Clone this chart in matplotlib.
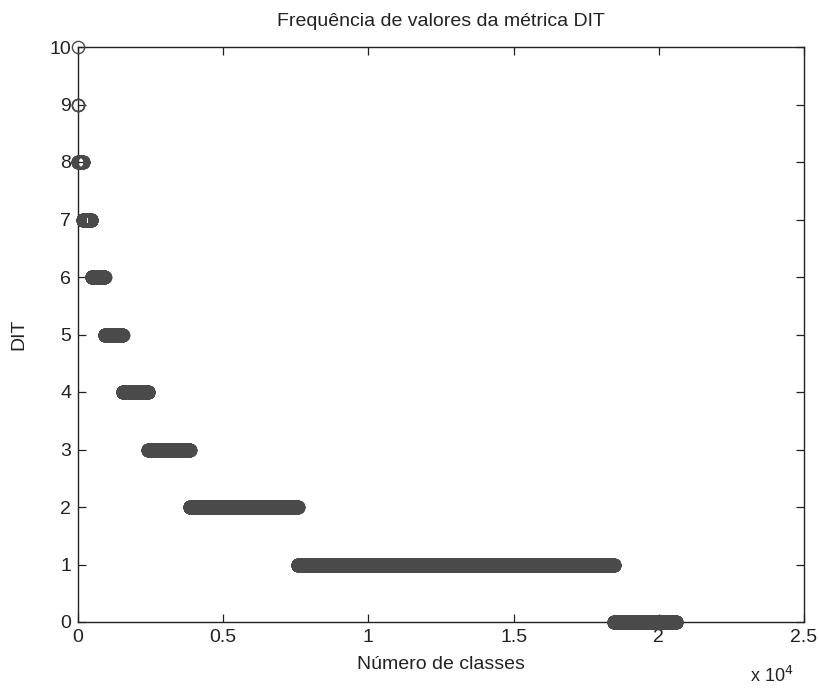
import numpy as np
import matplotlib
matplotlib.use("Agg")
import matplotlib.pyplot as plt

# Data: DIT value and number of classes having that value (sorted descending by DIT)
dit_values = [10, 9, 8, 7, 6, 5, 4, 3, 2, 1, 0]
class_counts = [1, 3, 160, 300, 450, 620, 880, 1430, 3720, 10890, 2140]

xtick_values = [0, 5000, 10000, 15000, 20000, 25000]
xtick_labels = ["0", "0.5", "1", "1.5", "2", "2.5"]
ytick_values = list(range(0, 11))

title = "Frequência de valores da métrica DIT"
xlabel = "Número de classes"
ylabel = "DIT"

plt.rcParams['font.family'] = ["Liberation Sans", 'DejaVu Sans']

y = np.repeat(dit_values, class_counts)
x = np.arange(1, len(y) + 1)

fig = plt.figure(figsize=(8.2, 6.88), dpi=100)
ax = fig.add_axes([78/820, 1 - 622/688, (804-78)/820, (622-47)/688])

col = "#4a4a4a"
ax.plot(x, y, linestyle='none', marker='o', markersize=8.8, markerfacecolor='none',
        markeredgecolor=col, markeredgewidth=1.0, clip_on=False, zorder=3)

ax.set_xlim(0, 25000)
ax.set_ylim(0, 10)
ax.set_xticks(xtick_values)
ax.set_xticklabels(xtick_labels)
ax.set_yticks(ytick_values)
ax.tick_params(direction='in', length=6, width=0.9, top=True, right=True,
               labelsize=14, colors='#222222', pad=5)
for s in ax.spines.values():
    s.set_linewidth(1.0)
    s.set_color('#222222')

ax.set_title(title, fontsize=14, color='#222222', pad=15)
ax.set_xlabel(xlabel, fontsize=14, color='#222222', labelpad=7)
ax.set_ylabel(ylabel, fontsize=14, color='#222222', labelpad=16)

fig.text(772/820, 1 - 676/688, "x 10$^{4}$", fontsize=13, color='#222222',
         ha='center', va='center')

fig.savefig("out.png", dpi=100)
